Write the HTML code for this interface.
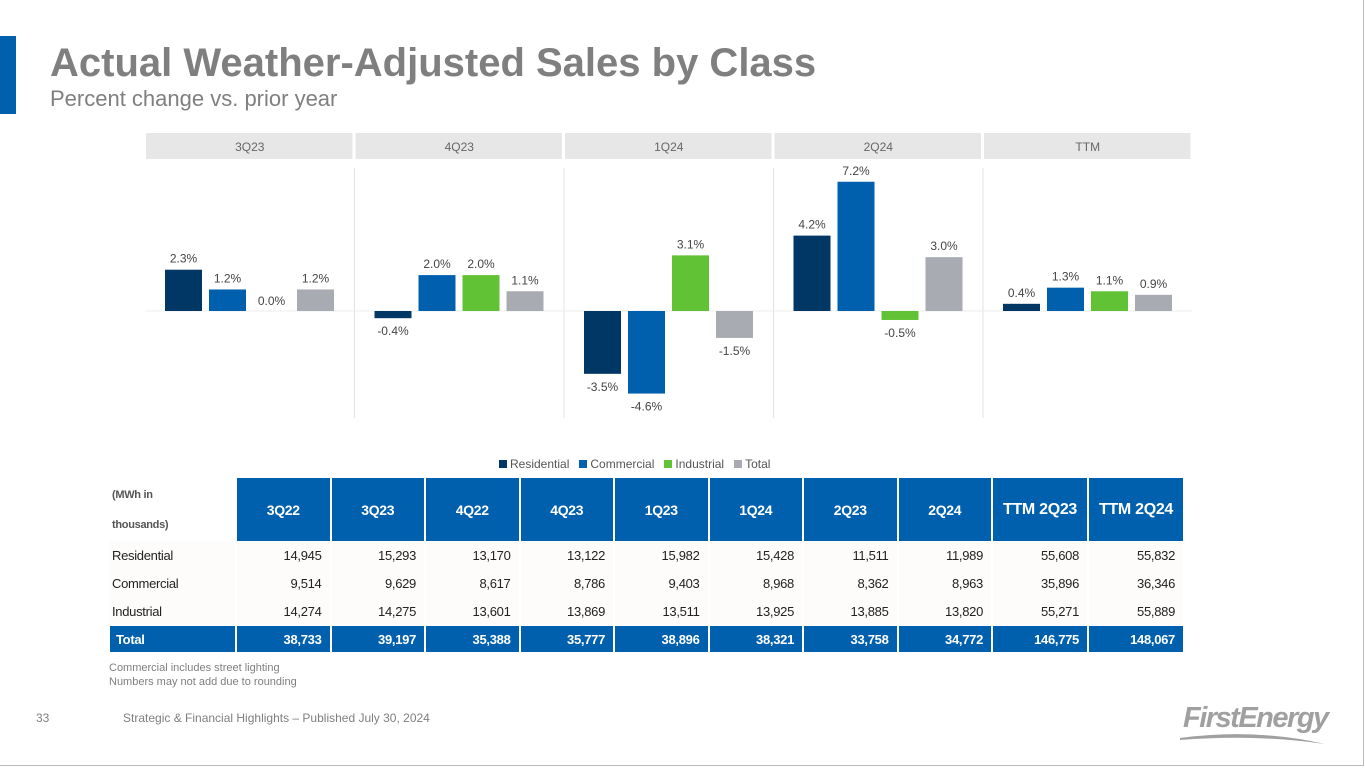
<!DOCTYPE html>
<html><head><meta charset="utf-8"><style>
body{margin:0;width:1365px;height:768px;overflow:hidden;background:#fff;font-family:"Liberation Sans",Arial,sans-serif;position:relative}
.abs{position:absolute}
table{border-collapse:separate;border-spacing:0;table-layout:fixed}
td{padding:0;box-sizing:border-box}
</style></head><body>
<div class="abs" style="left:0;top:0;width:1363px;height:765px;border:1px solid #bbb;border-top:none;border-left:none"></div>
<div class="abs" style="left:0;top:36px;width:16px;height:78px;background:#0060ae"></div>
<div class="abs" style="left:50px;top:41px;font-size:40px;font-weight:bold;color:#7f7f7f">Actual Weather-Adjusted Sales by Class</div>
<div class="abs" style="left:50px;top:86px;font-size:22px;color:#7f7f7f">Percent change vs. prior year</div>
<svg class="abs" style="left:0;top:0" width="1365" height="480" id="chart"></svg>
<div class="abs" style="left:499px;top:457px;font-size:12px;color:#555;display:flex;gap:10px">
<span><span style="display:inline-block;width:8px;height:8px;background:#003764;margin-right:3px"></span>Residential</span>
<span><span style="display:inline-block;width:8px;height:8px;background:#0060ae;margin-right:3px"></span>Commercial</span>
<span><span style="display:inline-block;width:8px;height:8px;background:#62c236;margin-right:3px"></span>Industrial</span>
<span><span style="display:inline-block;width:8px;height:8px;background:#a8abb2;margin-right:3px"></span>Total</span>
</div>
<div class="abs" id="tbl" style="left:110px;top:478px"></div>
<div class="abs" style="left:109px;top:661px;font-size:11px;color:#7f7f7f;line-height:14px">Commercial includes street lighting<br>Numbers may not add due to rounding</div>
<div class="abs" style="left:36px;top:711px;font-size:12px;color:#7f7f7f">33</div>
<div class="abs" style="left:123px;top:711px;font-size:12px;color:#7f7f7f">Strategic &amp; Financial Highlights – Published July 30, 2024</div>
<div class="abs" style="left:1183px;top:702px;font-size:29px;font-weight:bold;font-style:italic;color:#a0a0a0;letter-spacing:-1.5px">FirstEnergy</div>
<svg class="abs" style="left:1175px;top:728px" width="160" height="20"><path d="M5 10 Q80 0 150 16 Q80 6 5 12Z" fill="#a0a0a0"/></svg>
<script>
const periods=["3Q23","4Q23","1Q24","2Q24","TTM"];
const seriesNames=["Residential","Commercial","Industrial","Total"];
const residential=[2.3,-0.4,-3.5,4.2,0.4];
const commercial=[1.2,2.0,-4.6,7.2,1.3];
const industrial=[0.0,2.0,3.1,-0.5,1.1];
const total=[1.2,1.1,-1.5,3.0,0.9];
const colors=["#003764","#0060ae","#62c236","#a8abb2"];
const series=[residential,commercial,industrial,total];
const NS="http://www.w3.org/2000/svg";
const svg=document.getElementById('chart');
const x0=145,pw=209.5,zeroY=311,ppu=17.95;
const y=v=>zeroY-v*ppu;
function mk(t,a){const e=document.createElementNS(NS,t);for(const k in a)e.setAttribute(k,a[k]);svg.appendChild(e);return e;}
periods.forEach((p,i)=>{
 const px=x0+i*pw;
 const h=mk('rect',{x:px+1,y:133,width:pw-3,height:26,fill:'#e7e7e7'});
 
 
 const t=mk('text',{x:px+pw/2,y:151,'text-anchor':'middle','font-size':12,fill:'#666'});t.textContent=p;
 
 
 if(i>0){const l=mk('line',{x1:px,x2:px,y1:168,y2:418,stroke:'#e3e3e3'});}
 const z=mk('line',{x1:px,x2:px+pw,y1:zeroY,y2:zeroY,stroke:'#eee'});
 
 
 series.forEach((s,j)=>{
  const v=s[i];const bx=px+20+j*44;
  const top=Math.min(y(v),zeroY),hh=Math.abs(y(v)-zeroY);
  const r=mk('rect',{x:bx,y:top,width:37,height:hh,fill:colors[j]});
  
  
  const ly=v>0?y(v)-7:(v<0?y(v)+17:zeroY-6);
  const lt=mk('text',{x:bx+18.5,y:ly,'text-anchor':'middle','font-size':12,fill:'#444'});
  lt.textContent=v.toFixed(1)+'%';
  
  
 });
});
const cols=["3Q22","3Q23","4Q22","4Q23","1Q23","1Q24","2Q23","2Q24","TTM 2Q23","TTM 2Q24"];
const rowLabels=["Residential","Commercial","Industrial","Total"];
const resRow=["14,945","15,293","13,170","13,122","15,982","15,428","11,511","11,989","55,608","55,832"];
const comRow=["9,514","9,629","8,617","8,786","9,403","8,968","8,362","8,963","35,896","36,346"];
const indRow=["14,274","14,275","13,601","13,869","13,511","13,925","13,885","13,820","55,271","55,889"];
const totRow=["38,733","39,197","35,388","35,777","38,896","38,321","33,758","34,772","146,775","148,067"];
const rows=[resRow,comRow,indRow,totRow];
let h='<table style="width:1073px;font-size:13px;letter-spacing:-0.3px"><colgroup><col style="width:125px">';
cols.forEach((c,i)=>{h+='<col style="width:'+(i>=8?96:94.5)+'px">';});
h+='</colgroup>';
h+='<tr style="height:63px"><td style="font-size:11px;font-weight:bold;color:#555;line-height:30px;vertical-align:middle;padding-left:2px">(MWh in<br>thousands)</td>';
cols.forEach((c,i)=>{h+='<td style="background:#0060ae;color:#fff;font-weight:bold;text-align:center;border-left:2px solid #fff;'+(i>=8?'font-size:16px':'font-size:14px')+'">'+c+'</td>';});
h+='</tr>';
rows.forEach((r,ri)=>{
 const tot=ri==3;
 const st=tot?'background:#0060ae;color:#fff;font-weight:bold;':'background:#fdfcfa;color:#222;';
 h+='<tr style="height:'+(tot?27:28)+'px"><td style="'+st+'padding-left:'+(tot?6:2)+'px;border-top:'+(tot?'1px solid #fff':'0')+'">'+rowLabels[ri]+'</td>';
 r.forEach(v=>{h+='<td style="'+st+'text-align:right;padding-right:8px;border-left:2px solid #fff;border-top:'+(tot?'1px solid #fff':'0')+'">'+v+'</td>';});
 h+='</tr>';
});
h+='</table>';
document.getElementById('tbl').innerHTML=h;
</script>
</body></html>
